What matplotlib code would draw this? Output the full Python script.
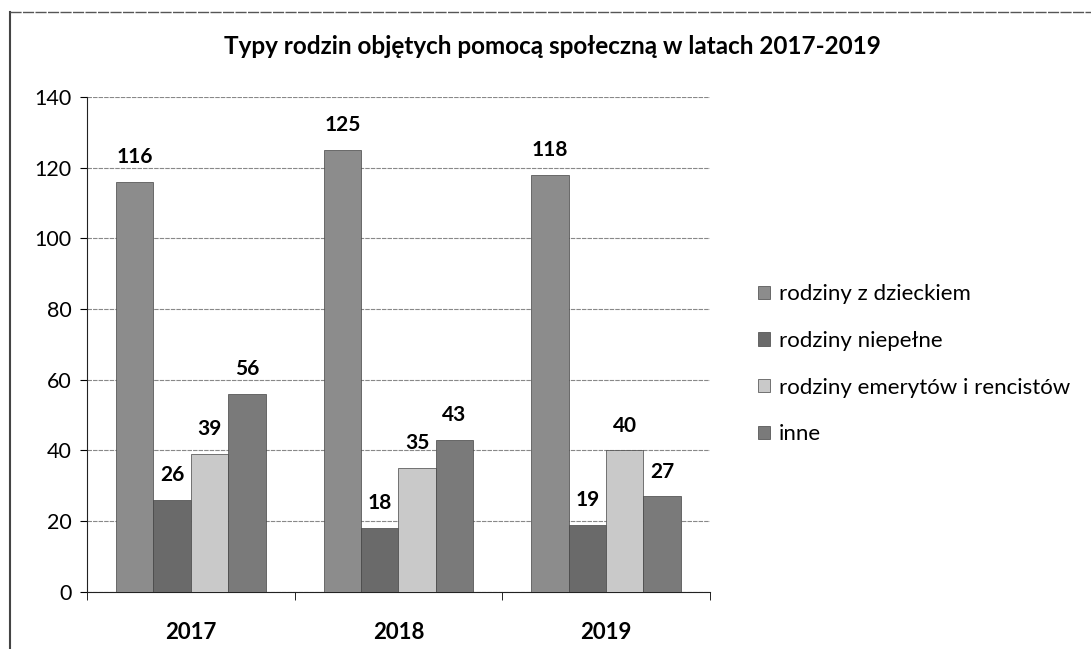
import matplotlib
matplotlib.use("Agg")
import matplotlib.pyplot as plt
import numpy as np

# dane
lata = ["2017", "2018", "2019"]
serie = ["rodziny z dzieckiem", "rodziny niepełne", "rodziny emerytów i rencistów", "inne"]
z_dzieckiem = [116, 125, 118]
niepelne = [26, 18, 19]
emeryci = [39, 35, 40]
inne = [56, 43, 27]
wartosci = [z_dzieckiem, niepelne, emeryci, inne]
kolory = ["#8c8c8c", "#6a6a6a", "#c9c9c9", "#7a7a7a"]

plt.rcParams['font.family'] = ['Lato', 'DejaVu Sans']

fig = plt.figure(figsize=(10.91, 6.49), dpi=100)
ax = fig.add_axes([0.0797, 0.088, 0.571, 0.7625])

# ramka wokol wykresu (widac lewa i gorna krawedz)
fig.add_artist(plt.Line2D([0.0095, 0.0095], [0.0, 0.982], transform=fig.transFigure,
                          color="#444444", lw=1.5))
fig.add_artist(plt.Line2D([0.0095, 1.0], [0.982, 0.982], transform=fig.transFigure,
                          color="#555555", lw=1.0, linestyle=(0, (8, 1))))

x = np.arange(len(lata))
w = 0.18
for i, (vals, nazwa, kol) in enumerate(zip(wartosci, serie, kolory)):
    pos = x + (i - 1.5) * w
    bars = ax.bar(pos, vals, w, color=kol, edgecolor="#444444", lw=0.5, label=nazwa, zorder=3)
    for b, v in zip(bars, vals):
        ax.text(b.get_x() + b.get_width() / 2, v + 4.2, str(v), ha="center", va="bottom",
                fontsize=15, fontweight="bold", zorder=4)

ax.set_xlim(-0.5, 2.5)
ax.set_ylim(0, 140)
ax.set_yticks(range(0, 141, 20))
ax.set_xticks(x)
ax.set_xticklabels(lata, fontsize=16, fontweight="bold")
ax.tick_params(axis="y", labelsize=15.5, length=5, direction="out", pad=6)
ax.tick_params(axis="x", length=0, pad=22)
ax.set_xticks([-0.5, 0.5, 1.5, 2.5], minor=True)
ax.tick_params(axis="x", which="minor", length=6, direction="out")

ax.grid(axis="y", color="#888888", lw=0.8, linestyle=(0, (4, 1)), zorder=0)
for s in ["top", "right"]:
    ax.spines[s].set_visible(False)
ax.spines["left"].set_color("#222222")
ax.spines["bottom"].set_color("#222222")

fig.text(0.506, 0.928, "Typy rodzin objętych pomocą społeczną w latach 2017-2019",
         ha="center", va="center", fontsize=17.5, fontweight="bold")

ax.legend(loc="center left", bbox_to_anchor=(1.045, 0.46), frameon=False, fontsize=16,
          handlelength=0.55, handleheight=0.55, handletextpad=0.4, labelspacing=1.2)

fig.savefig("out.png", dpi=100)
